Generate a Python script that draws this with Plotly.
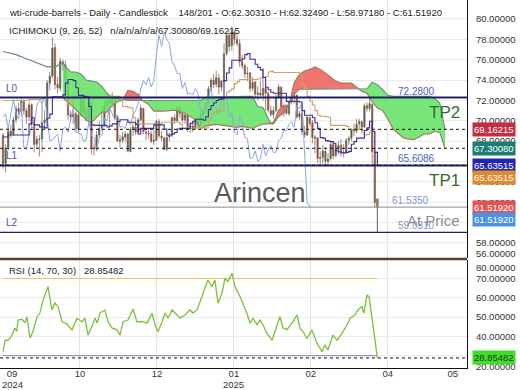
import plotly.graph_objects as go

# ---------------- data ----------------
opens = [68.6, 65.8, 67.4, 69.0, 68.7, 70.1, 71.2, 70.9, 71.9, 71.0,
         70.4, 71.6, 69.7, 67.7, 68.2, 68.2, 69.8, 70.1, 73.7, 74.4,
         77.2, 73.6, 73.2, 75.8, 75.5, 73.8, 70.6, 70.4, 70.7, 69.2,
         70.6, 72.1, 70.8, 70.2, 71.8, 67.4, 67.2, 68.6, 69.3, 69.5,
         71.5, 72.0, 71.7, 72.3, 70.4, 68.0, 68.1, 68.4, 68.7, 67.0,
         69.2, 69.4, 68.9, 70.1, 71.2, 68.9, 68.8, 68.7, 68.0, 68.1,
         69.9, 68.5, 68.3, 67.2, 68.4, 68.6, 70.3, 70.0, 71.3, 70.7,
         70.1, 70.6, 69.4, 69.5, 69.2, 70.1, 69.6, 70.6, 71.0, 71.7,
         73.1, 74.0, 73.6, 74.2, 73.3, 73.9, 76.6, 78.4, 77.4, 78.7,
         78.0, 77.6, 75.8, 75.4, 74.6, 74.7, 73.2, 73.8, 72.6, 72.7,
         72.5, 73.2, 72.7, 71.0, 70.6, 71.0, 72.3, 73.3, 71.4, 71.3,
         70.7, 71.9, 72.3, 72.5, 70.4, 70.7, 68.9, 68.6, 70.3, 69.8,
         68.4, 68.3, 66.3, 66.4, 67.0, 66.0, 66.3, 67.7, 66.6, 67.2,
         67.6, 66.9, 66.9, 68.1, 68.3, 69.1, 69.0, 69.7, 69.9, 69.4,
         71.5, 71.2, 71.6, 66.9, 62.3031]
highs = [68.8, 67.7, 69.3, 69.6, 70.4, 71.5, 71.8, 72.3, 72.1, 71.3,
         71.8, 71.7, 70.0, 68.5, 68.6, 71.9, 71.0, 74.0, 74.8, 78.2,
         77.6, 74.3, 76.2, 76.0, 75.9, 74.0, 71.0, 71.0, 70.9, 71.0,
         72.5, 72.5, 71.3, 71.9, 71.8, 67.8, 69.0, 70.0, 71.4, 72.0,
         72.2, 72.4, 72.8, 72.4, 70.5, 68.6, 68.9, 69.0, 68.8, 69.4,
         69.8, 69.7, 70.3, 71.6, 71.3, 69.3, 69.2, 69.0, 69.1, 70.1,
         70.2, 69.0, 68.4, 68.7, 68.8, 70.4, 70.7, 71.4, 71.5, 70.9,
         70.8, 70.6, 69.8, 69.9, 70.3, 70.3, 70.8, 71.3, 72.0, 73.4,
         74.2, 74.6, 74.9, 74.6, 74.0, 77.6, 78.6, 78.9, 79.3, 78.9,
         78.5, 78.0, 76.5, 75.6, 75.3, 74.8, 74.3, 73.9, 73.4, 73.9,
         75.2, 73.6, 72.9, 71.5, 71.4, 72.6, 73.6, 73.4, 71.6, 71.6,
         72.0, 72.6, 72.8, 72.6, 71.0, 70.9, 69.5, 70.5, 70.4, 70.1,
         68.6, 68.4, 67.0, 67.6, 67.4, 66.8, 67.9, 68.0, 67.7, 68.0,
         68.2, 67.7, 68.3, 68.5, 69.3, 69.7, 70.2, 70.2, 70.0, 71.7,
         71.8, 72.3, 71.7, 67.2, 62.3249]
lows = [65.3, 64.9, 67.1, 68.3, 68.5, 69.8, 70.6, 70.5, 70.6, 69.7,
        70.0, 69.3, 66.9, 67.3, 66.5, 66.9, 69.2, 69.9, 73.0, 74.2,
        73.1, 72.7, 72.9, 74.9, 73.1, 70.1, 69.9, 69.7, 68.9, 68.8,
        70.4, 70.4, 69.9, 69.9, 66.7, 66.6, 67.0, 68.4, 69.0, 69.4,
        71.0, 69.6, 71.3, 70.1, 67.9, 67.4, 67.8, 67.9, 66.9, 66.9,
        68.5, 68.6, 68.7, 69.9, 68.7, 68.1, 68.2, 67.8, 67.6, 68.0,
        68.3, 68.0, 67.1, 67.0, 68.0, 68.4, 69.7, 69.9, 70.3, 69.8,
        69.7, 68.9, 68.8, 68.9, 69.1, 69.3, 69.4, 70.3, 70.8, 71.5,
        72.9, 73.2, 73.3, 72.6, 72.9, 73.7, 76.4, 76.8, 76.9, 77.5,
        77.3, 75.3, 75.1, 74.2, 73.9, 72.8, 72.9, 72.2, 72.0, 72.4,
        72.0, 71.0, 70.8, 70.4, 70.2, 70.9, 72.2, 71.2, 70.4, 70.6,
        70.5, 71.6, 71.7, 70.2, 70.1, 68.6, 68.3, 68.5, 69.5, 67.8,
        66.8, 65.9, 65.7, 65.7, 65.6, 65.5, 66.1, 66.2, 66.4, 66.7,
        66.5, 66.4, 66.8, 67.6, 68.0, 68.5, 68.8, 69.1, 68.8, 69.3,
        70.9, 70.9, 65.6, 61.5, 58.9718]
closes = [65.75, 67.3, 68.97, 68.65, 70.09, 71.19, 70.91, 71.95, 71.0, 70.37,
          71.56, 69.69, 67.67, 68.18, 68.17, 69.83, 70.1, 73.71, 74.38, 77.14,
          73.57, 73.24, 75.85, 75.56, 73.83, 70.58, 70.39, 70.67, 69.22, 70.56,
          72.09, 70.77, 70.19, 71.78, 67.38, 67.21, 68.61, 69.26, 69.49, 71.47,
          71.99, 71.69, 72.36, 70.38, 68.04, 68.12, 68.43, 68.7, 67.02, 69.16,
          69.39, 68.87, 70.1, 71.24, 68.94, 68.77, 68.72, 68.0, 68.1, 69.94,
          68.54, 68.3, 67.2, 68.37, 68.59, 70.29, 70.02, 71.29, 70.71, 70.08,
          70.58, 69.38, 69.46, 69.24, 70.1, 69.62, 70.6, 70.99, 71.72, 73.13,
          73.96, 73.56, 74.25, 73.32, 73.92, 76.57, 78.4, 77.3, 78.7, 78.0,
          77.6, 75.8, 75.4, 74.62, 74.66, 73.17, 73.77, 72.62, 72.73, 72.53,
          73.16, 72.7, 71.03, 70.61, 71.0, 72.32, 73.32, 71.37, 71.29, 70.74,
          71.85, 72.25, 72.48, 70.4, 70.7, 68.93, 68.62, 70.35, 69.76, 68.37,
          68.26, 66.31, 66.36, 67.04, 66.03, 66.25, 67.68, 66.55, 67.18, 67.58,
          66.9, 66.9, 68.07, 68.28, 69.11, 69.0, 69.65, 69.92, 69.36, 71.48,
          71.2, 71.71, 66.95, 61.99, 61.5192]
bars = list(range(len(closes)))

tenkan = [68.4, 68.4, 68.6, 68.6, 68.6, 68.6, 68.6, 68.6, 68.6, 68.6,
          69.7, 70.3, 69.6, 69.6, 69.4, 69.4, 69.3, 70.25, 70.65, 72.35,
          72.35, 72.35, 72.35, 72.55, 73.7, 74.05, 74.05, 73.95, 73.25, 72.5,
          72.5, 72.4, 72.35, 71.4, 69.6, 69.55, 69.55, 69.55, 69.55, 69.55,
          69.4, 69.5, 69.7, 69.7, 69.9, 70.1, 70.1, 70.1, 69.85, 69.85,
          69.85, 69.65, 68.7, 69.25, 69.25, 69.25, 69.25, 69.25, 69.6, 69.6,
          69.6, 69.6, 69.2, 68.6, 68.6, 68.7, 68.85, 69.2, 69.25, 69.25,
          69.25, 69.25, 69.75, 69.95, 70.15, 70.15, 70.15, 70.05, 70.4, 71.1,
          71.5, 71.75, 72.0, 72.1, 72.15, 73.95, 74.7, 75.2, 75.95, 75.95,
          75.95, 75.95, 76.1, 76.5, 76.6, 76.05, 76.05, 75.55, 75.25, 75.0,
          74.25, 73.3, 73.05, 72.8, 72.7, 72.7, 72.7, 72.7, 72.7, 71.9,
          71.9, 71.9, 71.9, 71.9, 71.85, 71.0, 70.55, 70.55, 70.55, 70.3,
          69.8, 69.25, 68.35, 68.3, 68.05, 68.0, 67.95, 67.8, 67.05, 66.95,
          66.85, 66.85, 66.9, 67.0, 67.7, 67.95, 68.3, 68.3, 68.3, 69.05,
          69.3, 69.95, 68.95, 66.9, 65.63515]
kijun = [72.0, 72.0, 72.0, 72.0, 72.0, 72.0, 72.0, 72.0, 72.0, 72.0,
         72.1, 72.1, 72.1, 72.1, 72.1, 72.2, 72.2, 72.3, 72.3, 72.3,
         72.3, 72.3, 72.3, 72.3, 72.3, 71.55, 71.55, 72.35, 72.35, 72.35,
         72.35, 72.35, 72.35, 72.35, 72.35, 72.35, 72.35, 72.35, 72.35, 72.35,
         72.4, 72.4, 72.4, 72.4, 72.4, 72.1, 71.4, 71.4, 71.3, 71.25,
         70.3, 69.7, 69.7, 69.7, 69.7, 69.7, 69.7, 69.7, 69.7, 69.7,
         69.7, 69.85, 69.85, 69.85, 69.85, 69.85, 69.85, 69.85, 69.65, 69.25,
         69.25, 69.25, 69.25, 69.25, 69.3, 69.3, 69.3, 69.3, 69.3, 70.2,
         70.6, 70.8, 70.95, 70.95, 70.95, 72.3, 72.8, 72.95, 73.15, 73.65,
         73.85, 74.05, 74.05, 74.05, 74.05, 74.05, 74.05, 74.05, 74.1, 74.2,
         74.3, 74.35, 74.8, 74.85, 74.75, 74.75, 74.75, 74.75, 74.75, 74.75,
         74.75, 74.75, 74.75, 74.75, 74.55, 73.55, 73.15, 72.4, 71.95, 71.55,
         71.0, 70.55, 70.45, 70.45, 70.4, 70.35, 69.55, 69.55, 69.55, 69.55,
         69.55, 69.55, 69.45, 69.15, 69.15, 69.15, 69.15, 69.15, 69.05, 68.6,
         68.65, 68.9, 68.9, 66.9, 65.63515]
chikou_shift = 26

cloud_x = [0, 5, 10, 14, 17, 20, 23, 24, 26, 28, 30, 32, 34, 36, 38, 40, 42, 44, 46, 48,
           50, 52, 54, 56, 58, 62, 66, 70, 74, 76, 78, 82, 86, 90, 92, 96, 98, 100, 102, 103,
           104, 105, 106, 108, 110, 112, 114, 116, 118, 120, 122, 124, 126, 128, 130, 134, 136, 138, 140, 142,
           144, 146, 148, 150, 152, 154, 156, 158, 160, 162, 164, 166, 168, 169, 170]
span_a = [None, None, None, None, None, None, 72.3, 72.0, 71.6, 71.1, 70.6, 70.1, 69.8, 70.3, 70.85, 70.85, 71.5, 71.9, 72.0, 73.0,
          72.9, 72.6, 71.9, 71.6, 70.95, 70.95, 71.05, 70.75, 70.1, 69.2, 69.5, 69.65, 69.5, 69.35, 69.45, 69.25, 69.5, 69.7, 69.7, 69.75,
          69.85, 70.4, 71.05, 71.5, 71.55, 73.75, 74.55, 74.9, 75.05, 75.3, 75.05, 74.7, 74.3, 73.9, 73.7, 73.7, 73.3, 72.9, 72.7, 71.85,
          71.25, 71.0, 70.2, 69.2, 68.75, 68.3, 68.2, 68.15, 68.4, 68.7, 68.7, 68.95, 68.85, 68.0, 67.30080]
span_b = [76.8, 76.5, 76.0, 75.6, 75.3, 75.3, 75.7, 75.3, 74.8, 74.8, 74.6, 74.0, 73.9, 73.8, 73.4, 72.7, 72.3, 72.2, 72.1, 72.0,
          72.0, 72.0, 72.0, 72.0, 72.0, 72.0, 72.0, 72.0, 72.0, 72.0, 72.3, 72.35, 72.35, 72.35, 72.4, 72.4, 71.4, 71.3, 70.3, 69.7,
          69.7, 70.0, 70.4, 70.75, 71.6, 72.6, 73.1, 73.1, 73.1, 73.1, 73.1, 73.1, 73.15, 73.15, 73.15, 73.15, 73.15, 73.15, 73.15, 73.8,
          73.55, 73.05, 72.5, 72.4, 72.4, 72.4, 72.4, 72.4, 72.4, 72.4, 72.4, 72.2, 71.75, 70.4, 69.16215]

rsi_x = [0, 0.8, 2, 3.5, 4.6, 5.3, 5.8, 7.3, 8.5, 9.2, 10.4, 11.5, 13.1, 14.2, 15.4, 17.3, 18.8, 20, 21.2, 22.7,
         24.6, 26.5, 28.5, 30.4, 31.5, 32.7, 34.2, 35.4, 36.2, 37.3, 39.2, 40.4, 41.9, 43.8, 45, 46.2, 48.1, 50, 51.5, 53.8,
         55.4, 57.3, 58.5, 59.6, 61.2, 62.3, 63.5, 65, 66.2, 68.1, 70, 71.9, 73.1, 74.6, 75.8, 76.9, 78.8, 80.4, 81.5, 82.7,
         84.2, 85.4, 86.5, 88.1, 89.2, 91.2, 93.8, 95, 96.2, 97.7, 98.8, 100, 101.5, 103.5, 104.6, 106.5, 107.7, 109.2, 111.2, 113.1,
         114.2, 115.4, 116.9, 118.8, 120.8, 122.7, 123.8, 125, 126.9, 128.5, 130.4, 132.3, 133.5, 135.4, 136.5, 138.1, 138.8, 140, 140.8, 141.9,
         142.9, 144]
rsi_v = [32.1, 38.1, 38.0, 40.7, 44.4, 42.5, 48.5, 48.9, 47.0, 50.2, 39.2, 42.4, 50.2, 52.1, 58.9, 65.8, 53.7, 57.3, 55.4, 47.6,
         46.4, 43.3, 49.4, 47.5, 49.5, 40.7, 45.2, 49.5, 46.9, 52.1, 53.7, 47.6, 44.4, 43.5, 40.7, 47.6, 48.5, 54.2, 47.6, 47.6,
         46.9, 52.0, 46.0, 42.4, 47.6, 52.0, 49.5, 53.7, 52.1, 49.5, 51.1, 53.7, 52.1, 53.7, 58.0, 62.3, 69.2, 65.8, 69.2, 57.2,
         62.3, 70.1, 68.4, 72.7, 65.8, 60.6, 52.0, 46.8, 49.4, 46.0, 48.5, 45.9, 41.6, 38.1, 42.4, 50.2, 44.4, 43.5, 47.0, 51.1,
         44.4, 42.4, 38.9, 43.3, 36.4, 32.1, 35.5, 33.0, 40.7, 38.1, 41.6, 45.9, 49.4, 51.1, 53.7, 55.5, 52.0, 61.4, 60.6, 50.0,
         39.0, 28.85482]
rsi_upper, rsi_lower, rsi_last = 70, 30, 28.85482

x_tick_vals = [3.5, 29.6, 59.2, 88.8, 118.4, 148.0, 173.0]
x_tick_text = ["09", "10", "12", "01", "02", "04", "05"]
year_labels = [(3.5, "2024"), (88.8, "2025")]
month_grid = [29.6, 59.2, 88.8, 118.4, 148.0]
price_ticks = [58, 62, 64, 66, 68, 70, 72, 74, 76, 78, 80]
price_grid = [58, 60, 62, 64, 66, 68, 70, 72, 74, 76, 78, 80]
rsi_ticks = [40, 50, 60, 70]

level_L = [("L0", 72.28, "72.2800"), ("L1", 65.6086, "65.6086"), ("L2", 59.031, "59.0310")]
level_extra = [(61.535, "61.5350"), (56.519, "56.5190")]
dashed_levels = [69.16215, 67.30080, 65.63515]
at_price = 61.5192
tags = [(69.16215, "69.16215", "#c52d45", 0), (67.30080, "67.30080", "#1c7d72", 0),
        (65.63515, "65.63515", "#2424ae", 0), (65.63515, "65.63515", "#e2882c", -12),
        (61.51920, "61.51920", "#e25454", 0), (61.51920, "61.51920", "#4b92e2", -12)]

# ---------------- figure ----------------
FONT = "Liberation Sans, Arial, sans-serif"
fig = go.Figure()

# cloud fill split in runs of equal sign
pts = []
for k, xv in enumerate(cloud_x):
    a, b = span_a[k], span_b[k]
    if a is None:
        continue
    if pts:
        x0, a0, b0, _ = pts[-1]
        d0, d1 = a0 - b0, a - b
        if d0 * d1 < 0:
            t = d0 / (d0 - d1)
            xc = x0 + t * (xv - x0)
            yc = a0 + t * (a - a0)
            pts.append((xc, yc, yc, True))
    pts.append((xv, a, b, False))
runs, cur = [], [pts[0]]
for p in pts[1:]:
    cur.append(p)
    if p[3]:
        runs.append(cur)
        cur = [p]
runs.append(cur)
green_x, green_y, red_x, red_y = [], [], [], []
for r in runs:
    diff = max((q[1] - q[2] for q in r), key=abs)
    xs = [q[0] for q in r] + [q[0] for q in reversed(r)]
    ys = [q[1] for q in r] + [q[2] for q in reversed(r)]
    if diff < 0:
        green_x += xs + [None]; green_y += ys + [None]
    else:
        red_x += xs + [None]; red_y += ys + [None]
fig.add_trace(go.Scatter(x=green_x, y=green_y, fill="toself", fillcolor="rgba(98,226,98,0.85)",
                         line=dict(width=0), mode="lines", hoverinfo="skip"))
fig.add_trace(go.Scatter(x=red_x, y=red_y, fill="toself", fillcolor="rgba(238,98,92,0.88)",
                         line=dict(width=0), mode="lines", hoverinfo="skip"))
fig.add_trace(go.Scatter(x=cloud_x, y=span_b, mode="lines", line=dict(color="#66907a", width=1.1)))
fig.add_trace(go.Scatter(x=cloud_x, y=span_a, mode="lines", line=dict(color="#a8745c", width=1.1)))

# chikou
fig.add_trace(go.Scatter(x=[b - chikou_shift for b in bars[chikou_shift:]], y=closes[chikou_shift:],
                         mode="lines", line=dict(color="#8aa6e6", width=1)))
# kijun
fig.add_trace(go.Scatter(x=bars, y=kijun, mode="lines", line=dict(color="#c9a46c", width=1.1, shape="hv")))

# candles
fig.add_trace(go.Candlestick(x=bars[:-1], open=opens[:-1], high=highs[:-1], low=lows[:-1], close=closes[:-1],
                             increasing=dict(line=dict(color="#5e5e50", width=0.7), fillcolor="#5e5e50"),
                             decreasing=dict(line=dict(color="#8a5442", width=0.7), fillcolor="#8a5442"),
                             whiskerwidth=0))
fig.add_trace(go.Candlestick(x=bars[-1:], open=opens[-1:], high=highs[-1:], low=lows[-1:], close=closes[-1:],
                             increasing=dict(line=dict(color="#7a7a7a", width=1.2), fillcolor="#7a7a7a"),
                             decreasing=dict(line=dict(color="#7a7a7a", width=1.2), fillcolor="#7a7a7a"),
                             whiskerwidth=0))
# tenkan
fig.add_trace(go.Scatter(x=bars, y=tenkan, mode="lines", line=dict(color="#3d2f9e", width=1.1, shape="hv")))

# RSI panel
fig.add_trace(go.Scatter(x=[bars[0], bars[-1]], y=[rsi_upper, rsi_upper], mode="lines",
                         line=dict(color="#e9c659", width=1.2), xaxis="x2", yaxis="y2"))
fig.add_trace(go.Scatter(x=[bars[0], bars[-1]], y=[rsi_lower, rsi_lower], mode="lines",
                         line=dict(color="#9d90de", width=1.2), xaxis="x2", yaxis="y2"))
fig.add_trace(go.Scatter(x=rsi_x, y=rsi_v, mode="lines", line=dict(color="#7cc03c", width=1.3),
                         xaxis="x2", yaxis="y2"))

shapes = []
for name, val, txt in level_L:
    shapes.append(dict(type="line", xref="paper", x0=0, x1=1, yref="y", y0=val, y1=val,
                       line=dict(color="#1f2268", width=2 if name != "L2" else 1.3)))
shapes.append(dict(type="line", xref="paper", x0=0, x1=1, yref="y", y0=at_price, y1=at_price,
                   line=dict(color="#8c8c8c", width=1)))
for v in dashed_levels:
    shapes.append(dict(type="line", xref="paper", x0=0, x1=1, yref="y", y0=v, y1=v,
                       line=dict(color="#111111", width=1, dash="3px,3px")))
shapes.append(dict(type="line", xref="paper", x0=0, x1=1, yref="y2", y0=rsi_last, y1=rsi_last,
                   line=dict(color="#111111", width=1, dash="3px,3px")))
shapes.append(dict(type="line", xref="paper", x0=0, x1=1, yref="paper", y0=0.2962, y1=0.2962,
                   line=dict(color="#5c3b35", width=2.5)))

ann = []
ann.append(dict(text="wti-crude-barrels - Daily - Candlestick    148/201 - O:62.30310 - H:62.32490 - L:58.97180 - C:61.51920",
                xref="paper", yref="paper", x=0, y=1, xshift=7, yshift=-12, xanchor="left", yanchor="middle",
                showarrow=False, font=dict(size=9.5, color="#222")))
ann.append(dict(text="ICHIMOKU (9, 26, 52)   n/a/n/a/n/a/67.30080/69.16215",
                xref="paper", yref="paper", x=0, y=1, xshift=7, yshift=-30, xanchor="left", yanchor="middle",
                showarrow=False, font=dict(size=9.5, color="#222")))
ann.append(dict(text="RSI (14, 70, 30)   28.85482", xref="paper", yref="paper", x=0, y=0.2663, xshift=7,
                xanchor="left", yanchor="middle", showarrow=False, font=dict(size=9.5, color="#222")))
for name, val, txt in level_L:
    ann.append(dict(text=name, xref="paper", yref="y", x=0, y=val, xshift=4, yshift=2, xanchor="left",
                    yanchor="bottom", showarrow=False, font=dict(size=10, color="#5050a8")))
    col = "#4f5fc4" if name != "L2" else "#8595d6"
    ann.append(dict(text=txt, xref="paper", yref="y", x=397 / 467, y=val, xanchor="left", yanchor="bottom",
                    showarrow=False, font=dict(size=10, color=col), borderpad=0))
for val, txt in level_extra:
    ann.append(dict(text=txt, xref="paper", yref="y", x=391 / 467, y=val, xanchor="left", yanchor="bottom",
                    showarrow=False, font=dict(size=10, color="#8595d6"), borderpad=0))
ann.append(dict(text="TP2", xref="paper", yref="y", x=462 / 467, y=70.86, xanchor="right", yanchor="middle",
                showarrow=False, font=dict(size=17, color="#3a6b2e")))
ann.append(dict(text="TP1", xref="paper", yref="y", x=462 / 467, y=64.09, xanchor="right", yanchor="middle",
                showarrow=False, font=dict(size=17, color="#3a6b2e")))
ann.append(dict(text="At Price", xref="paper", yref="y", x=462 / 467, y=60.25, xanchor="right", yanchor="middle",
                showarrow=False, font=dict(size=15, color="#8d8d8d")))
ann.append(dict(text="Arincen", xref="paper", yref="y", x=260 / 467, y=62.91, xanchor="center", yanchor="middle",
                showarrow=False, font=dict(size=27, color="#5a5a5a")))
# year line under the month labels
for xv, txt in year_labels:
    ann.append(dict(text=txt, xref="x2", yref="paper", x=xv, y=0, yshift=-16, xanchor="center",
                    yanchor="middle", showarrow=False, font=dict(size=9.5, color="#333")))
# extra axis labels at the panel edges
ann.append(dict(text="56.00000", xref="paper", yref="y", x=1, y=56.92, xshift=7, xanchor="left", yanchor="middle",
                showarrow=False, font=dict(size=9.5, color="#333")))
ann.append(dict(text="80.00000", xref="paper", yref="y2", x=1, y=75.96, xshift=7, xanchor="left", yanchor="middle",
                showarrow=False, font=dict(size=9.5, color="#333")))
ann.append(dict(text="20.00000", xref="paper", yref="y2", x=1, y=24.6, xshift=7, xanchor="left", yanchor="middle",
                showarrow=False, font=dict(size=9.5, color="#333")))
for val, txt, bg, ys in tags:
    ann.append(dict(text=txt, xref="paper", yref="y", x=1, y=val, xshift=5, yshift=ys, xanchor="left",
                    yanchor="middle", showarrow=False, bgcolor=bg, borderpad=1,
                    font=dict(size=9.5, color="white")))
ann.append(dict(text="28.85482", xref="paper", yref="y2", x=1, y=rsi_last, xshift=5, xanchor="left",
                yanchor="middle", showarrow=False, bgcolor="#42dc26", borderpad=1,
                font=dict(size=9.5, color="#1d3d1d")))

x_lo, x_hi = -1.154, 178.46
grid_minor = dict(tickmode="array", tickvals=month_grid, showgrid=True, gridcolor="#e3e3e3", gridwidth=1, ticks="")
fig.update_layout(
    width=520, height=390, margin=dict(l=0, r=53, t=0, b=22, autoexpand=False),
    paper_bgcolor="white", plot_bgcolor="white", showlegend=False,
    font=dict(family=FONT, size=10, color="#333"),
    shapes=shapes, annotations=ann,
    xaxis=dict(domain=[0, 1], range=[x_lo, x_hi], anchor="y", showticklabels=False, showgrid=False,
               zeroline=False, rangeslider=dict(visible=False), minor=grid_minor, automargin=False),
    yaxis=dict(domain=[0.2989, 1], range=[56.52, 81.866], side="right", anchor="x", tickvals=price_ticks,
               ticktext=["%.5f" % v for v in price_ticks], showgrid=False, zeroline=False,
               minor=dict(tickmode="array", tickvals=price_grid, showgrid=True, gridcolor="#ebebeb", ticks=""),
               showline=True, linecolor="#111", linewidth=1, ticks="", ticklabelstandoff=6, automargin=False,
               tickfont=dict(size=9.5, color="#333")),
    xaxis2=dict(domain=[0, 1], range=[x_lo, x_hi], anchor="y2", tickvals=x_tick_vals, ticktext=x_tick_text,
                showgrid=False, zeroline=False, showline=True, linecolor="#111", linewidth=1, ticks="",
                minor=grid_minor, tickfont=dict(size=9.5, color="#333"), ticklabelstandoff=-3, automargin=False),
    yaxis2=dict(domain=[0, 0.2935], range=[23.63, 79.6], side="right", anchor="x2", tickvals=rsi_ticks,
                ticktext=["%.5f" % v for v in rsi_ticks], showgrid=False, zeroline=False,
                minor=dict(tickmode="array", tickvals=[30, 40, 50, 60, 70], showgrid=True, gridcolor="#ebebeb", ticks=""),
                showline=True, linecolor="#111", linewidth=1, ticks="", ticklabelstandoff=6, automargin=False,
                tickfont=dict(size=9.5, color="#333")),
)
fig.write_html("out.html")
